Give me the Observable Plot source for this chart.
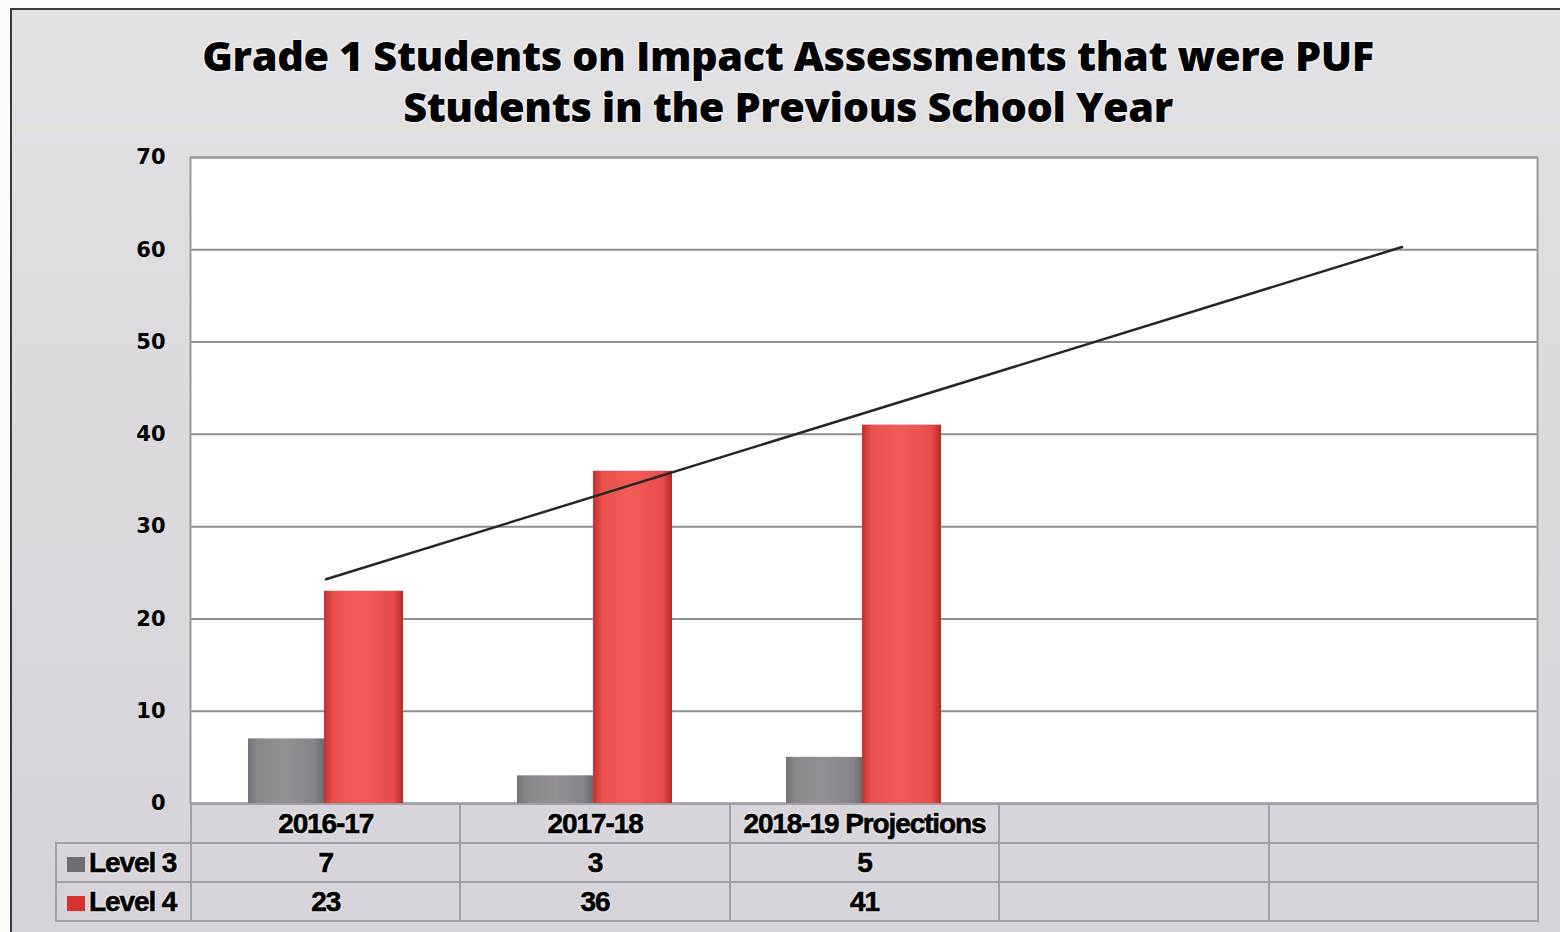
<!DOCTYPE html>
<html>
<head>
<meta charset="utf-8">
<script src="https://cdn.jsdelivr.net/npm/d3@7"></script>
<script src="https://cdn.jsdelivr.net/npm/@observablehq/plot@0.6"></script>
<style>
  html, body { margin: 0; padding: 0; background: #fbfbfb; }
  #wrap { position: relative; width: 1560px; height: 932px; overflow: hidden; background: #fbfbfb; }
  #panel { position: absolute; left: 10px; top: 8px; width: 1560px; height: 940px;
    background: linear-gradient(180deg, #e2e1e4 0%, #dcdadf 40%, #d6d3da 100%);
    border-left: 2px solid #3a3a3a; border-top: 2px solid #3a3a3a; box-sizing: border-box; }
  #title { position: absolute; left: 0; top: 30px; width: 1576px; text-align: center;
    font-family: "Open Sans", "DejaVu Sans", sans-serif; font-weight: 800; font-size: 41.5px;
    line-height: 51px; color: #000; text-shadow: 0 0 3px #fff, 0 0 2px #fff; letter-spacing: -0.4px; }
  #sep { position: absolute; left: 12px; top: 127px; width: 1548px; height: 2px; background: #e9e2bf; }
  #chart { position: absolute; left: 0; top: 130px; }
  #table { position: absolute; left: 55px; top: 803px; border-collapse: collapse; table-layout: fixed;
    font-family: "Liberation Sans", Arial, sans-serif; font-weight: bold; font-size: 28px; color: #000;
    letter-spacing: -1.1px; -webkit-text-stroke: 0.6px #000; }
  #table td { height: 37px; padding: 0; text-align: center; border: 2px solid #a19fa8;
    text-shadow: 0 0 3px #fff, 0 0 2px #fff; white-space: nowrap; }
  #table td.blank { border: none; border-right: 2px solid #a19fa8; }
  #table td.lab { text-align: left; padding-left: 10px; }
  .sw { display: inline-block; width: 18px; height: 15px; margin-right: 4px; vertical-align: 0px; }
</style>
</head>
<body>
<svg width="0" height="0" style="position:absolute">
  <defs>
    <linearGradient id="gRed" x1="0" x2="1" y1="0" y2="0">
      <stop offset="0" stop-color="#c4302d"/>
      <stop offset="0.12" stop-color="#e9514d"/>
      <stop offset="0.5" stop-color="#f25c57"/>
      <stop offset="0.88" stop-color="#e84c48"/>
      <stop offset="1" stop-color="#b72a27"/>
    </linearGradient>
    <linearGradient id="gGray" x1="0" x2="1" y1="0" y2="0">
      <stop offset="0" stop-color="#737076"/>
      <stop offset="0.12" stop-color="#8a878c"/>
      <stop offset="0.5" stop-color="#938f95"/>
      <stop offset="0.88" stop-color="#86838a"/>
      <stop offset="1" stop-color="#6c696f"/>
    </linearGradient>
  </defs>
</svg>
<div id="wrap">
  <div id="panel"></div>
  <div id="title">Grade 1 Students on Impact Assessments that were PUF<br>Students in the Previous School Year</div>
  <div id="sep"></div>
  <div id="chart"></div>
  <table id="table"></table>
</div>
<script>
const categories = ["2016-17", "2017-18", "2018-19 Projections", " ", "  "];
const seriesNames = ["Level 3", "Level 4"];
const level3 = [7, 3, 5];
const level4 = [23, 36, 41];
const trendCategories = ["2016-17", "  "];
const trendValues = [24.3, 60.3];
const yTicks = [0, 10, 20, 30, 40, 50, 60, 70];

const d3rows = level3.map((v, i) => ({cat: categories[i], v}));
const d4rows = level4.map((v, i) => ({cat: categories[i], v}));
const trend = trendCategories.map((c, i) => ({cat: c, v: trendValues[i]}));

const chart = Plot.plot({
  width: 1560,
  height: 802,
  marginLeft: 190,
  marginRight: 23,
  marginTop: 27,
  marginBottom: 129,
  style: {background: "transparent", fontFamily: "'DejaVu Sans', sans-serif", fontSize: "21px", fontWeight: "bold", color: "#000"},
  x: {domain: categories, padding: 0, axis: null},
  y: {domain: [0, 70], axis: null},
  marks: [
    Plot.frame({fill: "white", stroke: "none"}),
    Plot.gridY(yTicks, {stroke: "#8f8f8f", strokeOpacity: 1, strokeWidth: 2}),
    Plot.frame({stroke: "#9a9a9a", strokeWidth: 2}),
    Plot.barY(d3rows, {x: "cat", y: "v", fill: "url(#gGray)", insetLeft: 57, insetRight: 136}),
    Plot.barY(d4rows, {x: "cat", y: "v", fill: "url(#gRed)", insetLeft: 133, insetRight: 57}),
    Plot.line(trend, {x: "cat", y: "v", stroke: "#262626", strokeWidth: 2.5}),
    Plot.axisY(yTicks, {label: null, tickSize: 0, tickPadding: 25, fill: "#000", stroke: "#fff", strokeWidth: 3, paintOrder: "stroke"})
  ]
});
document.getElementById("chart").appendChild(chart);

// data table under the chart
const colW = 1347 / 5;
const table = document.getElementById("table");
let html = `<colgroup><col style="width:135px">${categories.map(() => `<col style="width:${colW}px">`).join("")}</colgroup>`;
html += `<tr><td class="blank"></td>${categories.map(c => `<td>${c}</td>`).join("")}</tr>`;
const swatch = ["#6f6d73", "#d8322f"];
[level3, level4].forEach((vals, r) => {
  html += `<tr><td class="lab"><span class="sw" style="background:${swatch[r]}"></span>${seriesNames[r]}</td>` +
    categories.map((c, i) => `<td>${vals[i] !== undefined ? vals[i] : ""}</td>`).join("") + `</tr>`;
});
table.innerHTML = html;
</script>
</body>
</html>
